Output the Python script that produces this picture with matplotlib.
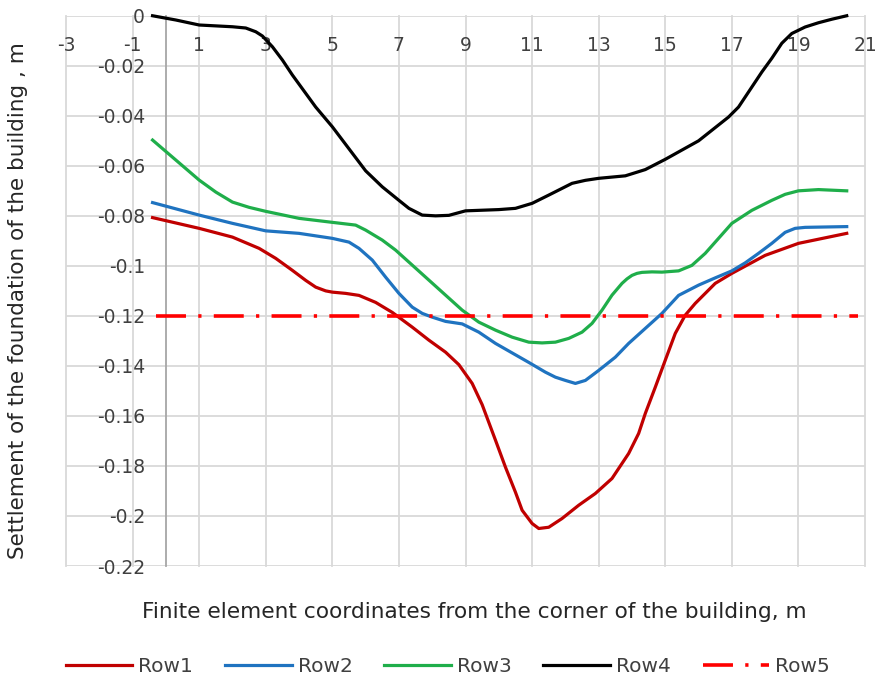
import matplotlib
matplotlib.use("Agg")
import matplotlib.pyplot as plt

plt.rcParams["axes.unicode_minus"] = False

# settlement curves (x in m, settlement in m)
row1_x = [-0.4, 1.0, 2.0, 2.8, 3.3, 3.8, 4.2, 4.5, 4.8, 5.0, 5.4, 5.8, 6.3, 6.8, 7.4, 7.9,
          8.4, 8.8, 9.2, 9.5, 9.9, 10.2, 10.5, 10.7, 11.0, 11.2, 11.5, 11.9, 12.4, 12.9,
          13.4, 13.9, 14.2, 14.4, 14.7, 15.0, 15.3, 15.6, 15.9, 16.2, 16.5, 17.0, 18.0,
          19.0, 20.45]
row1_y = [-0.0807, -0.085, -0.0885, -0.093, -0.097, -0.1018, -0.1058, -0.1085, -0.1100,
          -0.1105, -0.1110, -0.1118, -0.1146, -0.1186, -0.1245, -0.1297, -0.1345, -0.1395,
          -0.1470, -0.1555, -0.1697, -0.1805, -0.1905, -0.1977, -0.2030, -0.2050, -0.2045,
          -0.2010, -0.1957, -0.1910, -0.1850, -0.175, -0.167, -0.159, -0.1485, -0.1377,
          -0.1270, -0.1197, -0.1150, -0.1110, -0.1070, -0.1030, -0.0958, -0.091, -0.087]

row2_x = [-0.4, 1.0, 2.0, 3.0, 4.0, 5.0, 5.5, 5.8, 6.2, 6.6, 7.0, 7.4, 7.7, 8.0, 8.4, 8.9,
          9.4, 9.9, 10.4, 10.9, 11.4, 11.7, 12.0, 12.3, 12.6, 13.0, 13.5, 13.9, 14.4, 14.9,
          15.4, 16.0, 16.5, 17.0, 17.4, 17.8, 18.2, 18.6, 18.9, 19.2, 20.45]
row2_y = [-0.0747, -0.0797, -0.083, -0.086, -0.087, -0.089, -0.0905, -0.093, -0.0977,
          -0.1045, -0.1110, -0.1165, -0.1190, -0.1205, -0.1222, -0.1232, -0.1265, -0.131,
          -0.1348, -0.1386, -0.1425, -0.1445, -0.1458, -0.147, -0.1458, -0.1418, -0.1365,
          -0.131, -0.125, -0.119, -0.1118, -0.1077, -0.1048, -0.102, -0.0988, -0.095,
          -0.091, -0.0866, -0.085, -0.0846, -0.0843]

row3_x = [-0.4, 0.3, 1.0, 1.5, 2.0, 2.5, 3.0, 4.0, 5.0, 5.7, 6.0, 6.5, 6.9, 7.4, 7.9, 8.4,
          8.9, 9.4, 9.9, 10.4, 10.9, 11.3, 11.7, 12.1, 12.5, 12.8, 13.1, 13.4, 13.7, 13.85,
          14.0, 14.15, 14.3, 14.6, 14.9, 15.4, 15.8, 16.2, 16.6, 17.0, 17.6, 18.2, 18.6,
          19.0, 19.6, 20.45]
row3_y = [-0.0497, -0.0577, -0.0657, -0.0705, -0.0745, -0.0766, -0.0782, -0.081, -0.0826,
          -0.0837, -0.0857, -0.0897, -0.0937, -0.0997, -0.1057, -0.1117, -0.1177, -0.1225,
          -0.1257, -0.1285, -0.1305, -0.1308, -0.1305, -0.129, -0.1265, -0.123, -0.1177,
          -0.1117, -0.1070, -0.1052, -0.1038, -0.1030, -0.1026, -0.1024, -0.1025, -0.1020,
          -0.0998, -0.095, -0.089, -0.083, -0.0778, -0.0738, -0.0714, -0.070, -0.0695,
          -0.070]

row4_x = [-0.4, 0.3, 1.0, 2.0, 2.4, 2.7, 2.9, 3.2, 3.5, 3.8, 4.5, 5.0, 6.0, 6.5, 7.0, 7.3,
          7.7, 8.1, 8.5, 9.0, 10.0, 10.5, 11.0, 11.5, 12.2, 12.6, 13.0, 13.8, 14.4, 15.0,
          16.0, 16.9, 17.2, 17.6, 17.9, 18.2, 18.5, 18.8, 19.2, 19.6, 20.0, 20.45]
row4_y = [0.0, -0.0017, -0.0037, -0.0044, -0.0049, -0.0064, -0.0081, -0.0124, -0.0177,
          -0.0237, -0.0365, -0.0444, -0.062, -0.0684, -0.0738, -0.0770, -0.0797, -0.0800,
          -0.0798, -0.078, -0.0775, -0.077, -0.075, -0.0717, -0.067, -0.0658, -0.065,
          -0.064, -0.0615, -0.0574, -0.050, -0.0405, -0.0365, -0.0285, -0.0225, -0.017,
          -0.011, -0.0071, -0.0045, -0.0028, -0.0014, 0.0]

row5_x = [-0.3, 20.8]
row5_y = [-0.12, -0.12]

x_ticks = list(range(-3, 22, 2))
y_ticks = [0, -0.02, -0.04, -0.06, -0.08, -0.1, -0.12, -0.14, -0.16, -0.18, -0.2, -0.22]
y_ticklabels = ["0", "-0.02", "-0.04", "-0.06", "-0.08", "-0.1", "-0.12", "-0.14",
                "-0.16", "-0.18", "-0.2", "-0.22"]

GRID = "#D9D9D9"
TXT = "#404040"
FS = 13.5

fig = plt.figure(figsize=(8.8, 6.79), dpi=100)
ax = fig.add_axes([0.075, 0.1664, 0.908, 0.8104])
ax.set_xlim(-3, 21)
ax.set_ylim(-0.22, 0)

lw = 2.3
kw = dict(lw=lw, clip_on=False, zorder=3, solid_joinstyle="round")
ax.plot(row1_x, row1_y, color="#C00000", label="Row1", **kw)
ax.plot(row2_x, row2_y, color="#1F73C0", label="Row2", **kw)
ax.plot(row3_x, row3_y, color="#1FAE4A", label="Row3", **kw)
ax.plot(row4_x, row4_y, color="black", label="Row4", **kw)
ax.plot(row5_x, row5_y, color="#FF0000", lw=2.6, label="Row5", clip_on=False, zorder=3,
        linestyle=(0, (8.3, 3.4, 0.9, 3.4)), dash_capstyle="butt")

# grid + vertical axis through x = 0
ax.set_xticks(x_ticks)
ax.set_yticks(y_ticks)
ax.set_yticklabels(y_ticklabels)
ax.grid(True, color=GRID, lw=1.3, zorder=0)
for gl in ax.get_xgridlines() + ax.get_ygridlines():
    gl.set_clip_on(False)
for s in ["top", "bottom", "right"]:
    ax.spines[s].set_visible(False)
ax.spines["left"].set_position(("data", 0))
ax.spines["left"].set_color("#A6A6A6")
ax.spines["left"].set_linewidth(1.3)
ax.set_axisbelow(True)

ax.tick_params(axis="y", length=0, pad=15, labelsize=FS, labelcolor=TXT)
ax.tick_params(axis="x", length=0, bottom=False, labelbottom=False, top=True,
               labeltop=True, pad=-21.5, labelsize=FS, labelcolor=TXT)
for t in ax.xaxis.get_major_ticks():
    t.label2.set_va("center")

fig.text(0.02, 0.558, "Settlement of the foundation of the building , m", rotation=90,
         ha="center", va="center", fontsize=15.5, color="#262626")
fig.text(0.539, 1 - 612 / 679, "Finite element coordinates from the corner of the building, m",
         ha="center", va="center", fontsize=15.6, color="#262626")

fig.legend(loc="center", bbox_to_anchor=(0.509, 1 - 667 / 679), ncol=5, frameon=False,
           fontsize=14.5, handlelength=3.3, handletextpad=0.3, columnspacing=1.58,
           labelcolor=TXT)

fig.savefig("out.png", dpi=100, facecolor="white")
